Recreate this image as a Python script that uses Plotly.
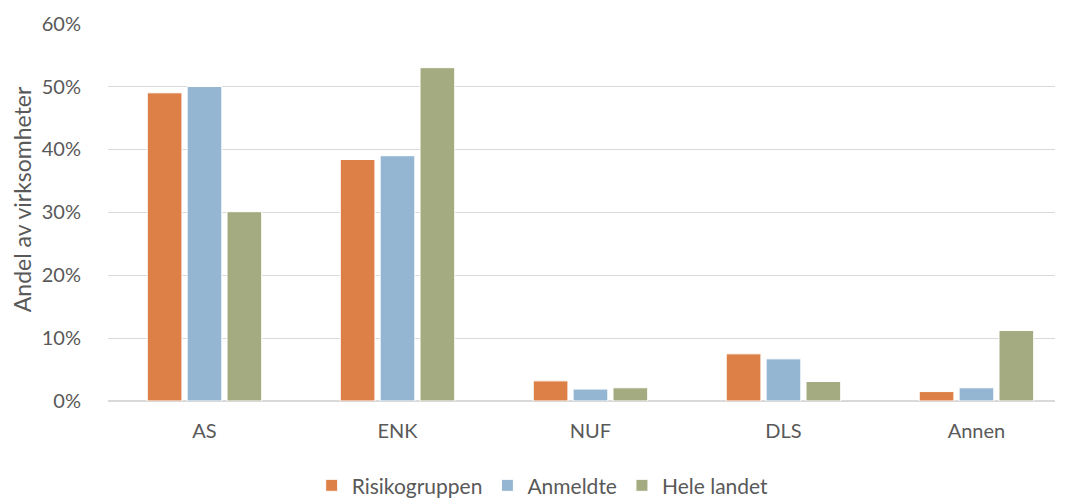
import plotly.graph_objects as go

categories = ["AS", "ENK", "NUF", "DLS", "Annen"]
risikogruppen = [49.0, 38.4, 3.2, 7.5, 1.5]
anmeldte = [50.0, 39.0, 1.9, 6.7, 2.1]
hele_landet = [30.1, 53.0, 2.1, 3.1, 11.2]
y_ticks = [0, 10, 20, 30, 40, 50, 60]
y_tick_labels = ["0%", "10%", "20%", "30%", "40%", "50%", "60%"]

font_family = "Lato, Open Sans, sans-serif"
grey = "#595959"

fig = go.Figure()
for name, vals, color in [
    ("Risikogruppen", risikogruppen, "#DD8047"),
    ("Anmeldte", anmeldte, "#94B6D2"),
    ("Hele landet", hele_landet, "#A5AB81"),
]:
    fig.add_trace(go.Bar(
        x=categories, y=vals, name=name,
        marker=dict(color=color, line=dict(color="white", width=1)),
    ))

fig.add_annotation(
    text="Andel av virksomheter", textangle=-90,
    xref="paper", yref="paper", x=-0.0908, y=0.534,
    xanchor="center", yanchor="middle", showarrow=False,
    font=dict(size=23, color=grey, family=font_family),
)

fig.update_layout(
    width=1059, height=490,
    margin=dict(l=100, r=12, t=15, b=97, autoexpand=False),
    paper_bgcolor="white", plot_bgcolor="white",
    barmode="group", bargap=0.38, bargroupgap=0.13,
    font=dict(family=font_family, size=20, color=grey),
    showlegend=True,
    legend=dict(orientation="h", x=0.459, xanchor="center", y=-0.224, yanchor="middle",
                font=dict(size=21, color=grey), itemwidth=30, tracegroupgap=0),
    xaxis=dict(range=[-0.5, 4.407], showgrid=False, zeroline=False, showline=False,
               automargin=False,
               ticks="outside", ticklen=12, tickcolor="rgba(0,0,0,0)",
               tickfont=dict(size=20, color=grey)),
    yaxis=dict(range=[0, 60.1], tickvals=y_ticks, ticktext=y_tick_labels,
               automargin=False,
               showgrid=True, gridcolor="#D9D9D9", gridwidth=1.3,
               zeroline=True, zerolinecolor="#D9D9D9", zerolinewidth=1.5,
               ticks="outside", ticklen=22, tickcolor="rgba(0,0,0,0)",
               tickfont=dict(size=20, color=grey)),
)

fig.write_html("out.html")
